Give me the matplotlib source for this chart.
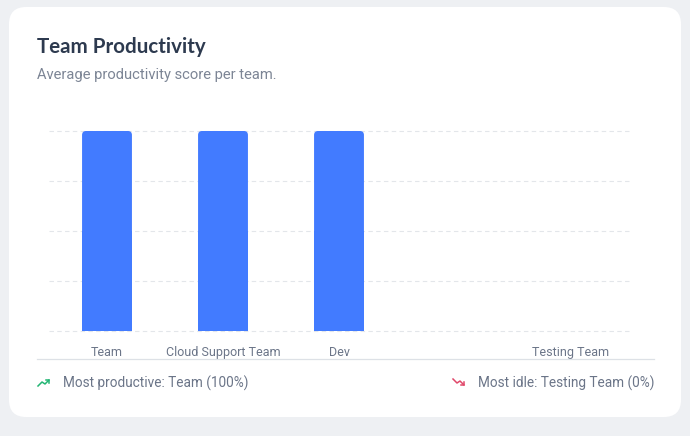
import matplotlib
matplotlib.use("Agg")
import matplotlib.pyplot as plt
from matplotlib.patches import FancyBboxPatch, Rectangle
from matplotlib.lines import Line2D

categories = ["Team", "Cloud Support Team", "Dev", "", "Testing Team"]
scores = [100, 100, 100, 0, 0]
title = "Team Productivity"
subtitle = "Average productivity score per team."
best_text = "Most productive: Team (100%)"
idle_text = "Most idle: Testing Team (0%)"

W, H = 690, 436
fig = plt.figure(figsize=(W / 100, H / 100), dpi=100)
fig.patch.set_facecolor("#eef0f3")

def fx(px):
    return px / W

def fy(py):
    return 1 - py / H

# card
card = FancyBboxPatch((fx(9), fy(417)), fx(672), (417 - 7) / H,
                      boxstyle="round,pad=0,rounding_size=0.025",
                      transform=fig.transFigure, facecolor="white",
                      edgecolor="none", mutation_aspect=W / H, zorder=-5)
fig.patches.append(card)

fig.text(fx(37), fy(47), title, fontsize=14.8, fontweight="bold",
         family="Lato", color="#2d3a4f", va="center", ha="left")
fig.text(fx(37), fy(75), subtitle, fontsize=10.6, family="Roboto",
         color="#7c8595", va="center", ha="left")

ax = fig.add_axes([fx(49), fy(331), fx(629) - fx(49), (331 - 131) / H])
ax.set_facecolor("none")
x = list(range(len(categories)))
bars = ax.bar(x, scores, width=0.43, color="#427bff", zorder=3)
ax.set_xlim(-0.5, len(categories) - 0.5)
ax.set_ylim(0, 100)
ax.set_yticks([0, 25, 50, 75, 100])
ax.yaxis.grid(True, linestyle=(0, (4, 3)), color="#e3e6ea", linewidth=0.8, zorder=0)
for gl in ax.get_ygridlines():
    gl.set_clip_on(False)
ax.tick_params(axis="y", left=False, labelleft=False)
ax.tick_params(axis="x", bottom=False, pad=7, labelsize=9, labelcolor="#6b7588")
ax.set_xticks(x)
ax.set_xticklabels(categories, family="Roboto")
for s in ax.spines.values():
    s.set_visible(False)

# rounded tops
px_x = (628 - 48) / len(categories)  # pixels per x unit
px_y = (331 - 131) / 100.0  # pixels per y unit
r = 4
for b in bars:
    h = b.get_height()
    if h <= 0:
        continue
    b.set_visible(False)
    x0, w = b.get_x(), b.get_width()
    rp = FancyBboxPatch((x0, 0), w, h,
                        boxstyle="round,pad=0,rounding_size=%f" % (r / px_x),
                        mutation_aspect=px_x / px_y,
                        facecolor="#427bff", edgecolor="none", zorder=3)
    ax.add_patch(rp)
    ax.add_patch(Rectangle((x0, 0), w, h / 2, facecolor="#427bff",
                           edgecolor="none", zorder=3))

# separator
fig.add_artist(Line2D([fx(37), fx(654)], [fy(359), fy(359)],
                      transform=fig.transFigure, color="#dde1e6", linewidth=0.9))

# icons
fig.add_artist(Line2D([fx(38), fx(42), fx(45), fx(49)], [fy(386), fy(382), fy(384), fy(380)],
                      transform=fig.transFigure, color="#22b573", linewidth=1.1))
fig.add_artist(Line2D([fx(46), fx(49), fx(49)], [fy(380), fy(380), fy(383)],
                      transform=fig.transFigure, color="#22b573", linewidth=1.1))
fig.add_artist(Line2D([fx(453), fx(457), fx(460), fx(464)], [fy(379), fy(383), fy(381), fy(385)],
                      transform=fig.transFigure, color="#e0486a", linewidth=1.1))
fig.add_artist(Line2D([fx(461), fx(464), fx(464)], [fy(385), fy(385), fy(382)],
                      transform=fig.transFigure, color="#e0486a", linewidth=1.1))

fig.text(fx(63), fy(383), best_text, fontsize=9.8, family="Roboto",
         color="#6b7588", va="center", ha="left")
fig.text(fx(654), fy(383), idle_text, fontsize=9.8, family="Roboto",
         color="#6b7588", va="center", ha="right")

fig.savefig("out.png", dpi=100, facecolor=fig.get_facecolor())
